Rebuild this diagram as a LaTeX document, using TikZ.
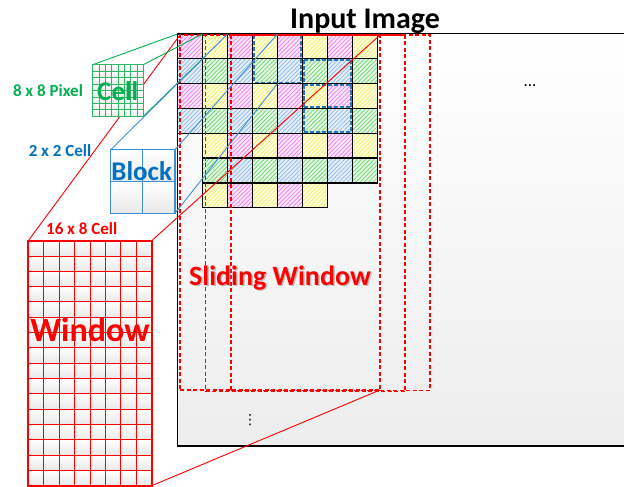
\documentclass[tikz,border=0pt]{standalone}
\usepackage{fontspec}
\setmainfont{Carlito}
\newfontfamily\symfont{DejaVu Sans}
\usetikzlibrary{patterns.meta}

\definecolor{offgreen}{HTML}{00B050}
\definecolor{cellgreen}{HTML}{2DB865}
\definecolor{offblue}{HTML}{0070C0}
\definecolor{blockblue}{HTML}{3F8FD2}
\definecolor{dashblue}{HTML}{2E75B6}
\definecolor{offred}{HTML}{FF0000}
% hatched cell colours: background / hatch
\definecolor{pinkbg}{HTML}{FBE6FB}
\definecolor{pinkln}{HTML}{F07CF0}
\definecolor{yellowbg}{HTML}{FDFDE2}
\definecolor{yellowln}{HTML}{F2F25A}
\definecolor{bluebg}{HTML}{E4EEF9}
\definecolor{blueln}{HTML}{8DB8E6}
\definecolor{greenbg}{HTML}{E3F6E3}
\definecolor{greenln}{HTML}{6BD46B}

\tikzset{
  lbl/.style={inner sep=0pt, anchor=base},
  frontbox/.style={inner sep=0pt, outer sep=0pt, anchor=north west},
  swin/.style={draw=offred, line width=1.6pt, dash pattern=on 4pt off 2.5pt,
    inner sep=0pt, outer sep=0pt, anchor=north west},
  blkbox/.style={draw=dashblue, line width=1.7pt, dash pattern=on 4pt off 2pt},
  hatch/.style={pattern={Lines[angle=45,distance=3pt,line width=0.7pt]}},
  cellshade/.style={top color=white, bottom color=black!9},
}

\begin{document}
\begin{tikzpicture}[x=1pt,y=-1pt]
\useasboundingbox (0,0) rectangle (624,487);
\clip (0,0) rectangle (624,487);

% the input image
\node[frontbox, draw=black, line width=1.4pt, top color=white, bottom color=black!7,
  minimum width=480pt, minimum height=412.5pt] (img) at (177.5,33.5) {};

% grid corner coordinates
\foreach \c in {0,...,8}{
  \foreach \r in {0,...,7}{
    \coordinate (g-\c-\r) at ({177.5+25*\c},{34+24.8*\r});
  }
}

% hatched cells of the image
\foreach \r/\cs/\ce in {0/0/7,1/0/7,2/0/7,3/0/7,4/1/7,5/1/7,6/1/5}{
  \foreach \c in {\cs,...,\ce}{
    \pgfmathtruncatemacro\k{2*mod(\r,2)+mod(\c,2)}
    \ifcase\k \def\bg{pinkbg}\def\ln{pinkln}
    \or \def\bg{yellowbg}\def\ln{yellowln}
    \or \def\bg{bluebg}\def\ln{blueln}
    \else \def\bg{greenbg}\def\ln{greenln}\fi
    \pgfmathsetmacro\xa{177.5+25*\c}
    \pgfmathsetmacro\ya{34+24.8*\r}
    \fill[\bg] (\xa,\ya) rectangle ++(25,24.8);
    \fill[hatch, pattern color=\ln] (\xa,\ya) rectangle ++(25,24.8);
  }
}
\foreach \r/\cs/\ce in {0/0/7,1/0/7,2/0/7,3/0/7,4/1/7,5/1/7,6/1/5}{
  \foreach \c in {\cs,...,\ce}{
    \pgfmathsetmacro\xa{177.5+25*\c}
    \pgfmathsetmacro\ya{34+24.8*\r}
    \draw[black, line width=1.4pt] (\xa,\ya) rectangle ++(25,24.8);
  }
}

% blocks sliding by one cell
\draw[blkbox] (253.7,35.2) rectangle (301.3,82.4);
\draw[blkbox] (303.7,59.9) rectangle (351.3,107.2);
\draw[blkbox] (303.7,84.7) rectangle (351.3,132.0);

% sliding windows
\node[swin, minimum width=200pt, minimum height=355pt] (sw1) at (180,35) {};
\node[swin, minimum width=199.5pt, minimum height=356.5pt] (sw2) at (205.5,35) {};
\node[swin, minimum width=199.3pt, minimum height=355.5pt] (sw3) at (230.7,35) {};

% front boxes (positions only, drawn below)
\coordinate (cellNW) at (92.7,64.7);
\coordinate (blockNW) at (110.7,149.7);
\coordinate (winNW) at (28.3,240.7);
\node[frontbox, minimum width=50.6pt, minimum height=51.6pt] (cellbox) at (cellNW) {};
\node[frontbox, minimum width=64.3pt, minimum height=63.6pt] (blockbox) at (blockNW) {};
\node[frontbox, minimum width=123.4pt, minimum height=245pt] (winbox) at (winNW) {};

% projection lines
\draw[offred, line width=0.9pt] (winbox.north west) -- (sw1.north west);
\draw[offred, line width=0.9pt] (winbox.north east) -- (sw1.north east);
\draw[offred, line width=0.9pt] (winbox.south east) -- (sw1.south east);
\draw[offgreen, line width=0.9pt] (cellbox.north west) -- (g-0-0);
\draw[offgreen, line width=0.9pt] (cellbox.north east) -- (g-1-0);
\draw[offgreen, line width=0.9pt] (cellbox.south east) -- (g-1-1);
\draw[blockblue, line width=0.9pt] (blockbox.north west) -- (g-2-0);
\draw[blockblue, line width=0.9pt] (blockbox.north east) -- (g-4-0);
\draw[blockblue, line width=0.9pt] (blockbox.south east) -- (g-4-2);

% cell: 8 x 8 pixels
\foreach \i in {0,...,7}{
  \foreach \j in {0,...,7}{
    \shade[cellshade] ({92.7+50.6/8*\i},{64.7+51.6/8*\j}) rectangle ++({50.6/8},{51.6/8});
  }
}
\foreach \i in {1,...,7}{
  \draw[cellgreen, line width=0.8pt] ({92.7+50.6/8*\i},64.7) -- ++(0,51.6);
  \draw[cellgreen, line width=0.8pt] (92.7,{64.7+51.6/8*\i}) -- ++(50.6,0);
}
\draw[cellgreen, line width=1.1pt] (cellbox.north west) rectangle (cellbox.south east);

% block: 2 x 2 cells
\foreach \i in {0,1}{
  \foreach \j in {0,1}{
    \shade[cellshade] ({110.7+64.3/2*\i},{149.7+63.6/2*\j}) rectangle ++({64.3/2},{63.6/2});
  }
}
\draw[blockblue, line width=1.1pt] (blockbox.north) -- (blockbox.south);
\draw[blockblue, line width=1.1pt] (blockbox.west) -- (blockbox.east);
\draw[blockblue, line width=1.4pt] (blockbox.north west) rectangle (blockbox.south east);

% window: 16 x 8 cells
\foreach \i in {0,...,7}{
  \foreach \j in {0,...,15}{
    \shade[cellshade] ({28.3+123.4/8*\i},{240.7+245/16*\j}) rectangle ++({123.4/8},{245/16});
  }
}
\foreach \i in {1,...,7}{
  \draw[offred, line width=1pt] ({28.3+123.4/8*\i},240.7) -- ++(0,245);
}
\foreach \j in {1,...,15}{
  \draw[offred, line width=1pt] (28.3,{240.7+245/16*\j}) -- ++(123.4,0);
}
\draw[offred, line width=1.8pt] (winbox.north west) rectangle (winbox.south east);

% labels
\node[lbl, font=\bfseries\fontsize{30}{32}\selectfont] (title) at (365,28.5) {Input Image};
\node[lbl, text=offgreen, font=\bfseries\fontsize{17}{19}\selectfont] (pixlbl) at (48,96.7) {8 x 8 Pixel};
\node[lbl, text=offgreen, font=\bfseries\fontsize{27}{29}\selectfont] (celllbl) at (117.8,100) {Cell};
\node[lbl, text=offblue, font=\bfseries\fontsize{17}{19}\selectfont] (cellcnt) at (60,156.5) {2 x 2 Cell};
\node[lbl, text=offblue, font=\bfseries\fontsize{27}{29}\selectfont] (blocklbl) at (141.7,180.7) {Block};
\node[lbl, text=offred, font=\bfseries\fontsize{17}{19}\selectfont] (wincnt) at (81.7,234) {16 x 8 Cell};
\node[lbl, text=offred, font=\bfseries\fontsize{34}{36}\selectfont] (winlbl) at (90,341.7) {Window};
\node[lbl, text=black!45, opacity=0.5, font=\bfseries\fontsize{28}{30}\selectfont] (swshadow) at (281.5,286.5) {Sliding Window};
\node[lbl, text=offred, font=\bfseries\fontsize{28}{30}\selectfont] (swlbl) at (280,285) {Sliding Window};
\node[lbl, font=\fontsize{17}{19}\selectfont] (hdots) at (530,86) {...};
\node[inner sep=0pt, font=\symfont\fontsize{14}{16}\selectfont] (vdots) at (250,420) {⋮};
\end{tikzpicture}
\end{document}
